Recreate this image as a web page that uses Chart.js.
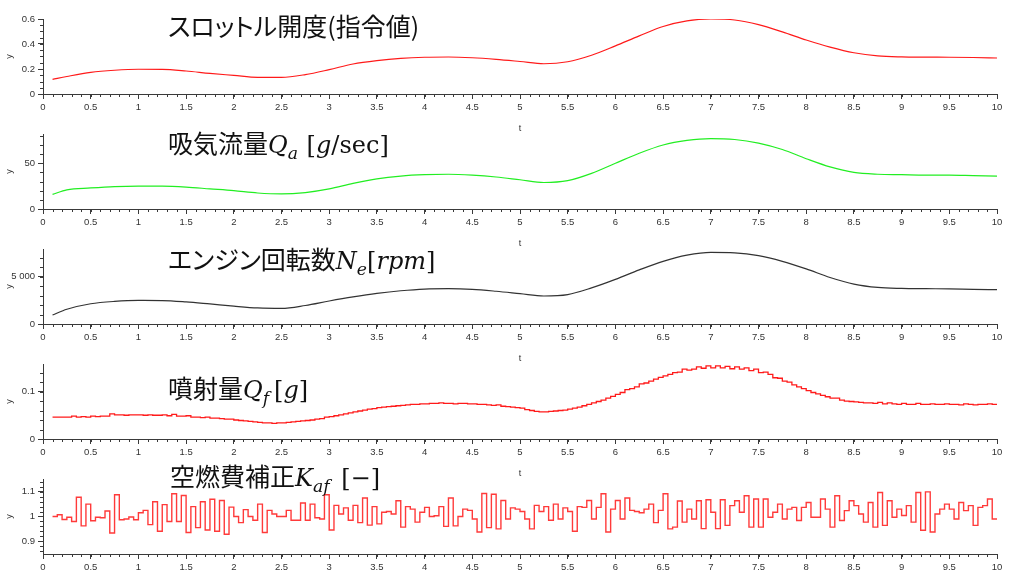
<!DOCTYPE html>
<html><head><meta charset="utf-8">
<script src="https://cdn.jsdelivr.net/npm/chart.js@4.4.1/dist/chart.umd.min.js"></script>
<style>
html,body{margin:0;padding:0;background:#fff;}
#wrap{position:relative;width:1024px;height:579px;overflow:hidden;background:#fff;}
#wrap canvas{position:absolute;left:0;}
.ttl{position:absolute;font-family:"Noto Sans CJK JP";font-size:25px;line-height:1;color:#111;white-space:nowrap;font-feature-settings:"palt";}
.m{font-family:"DejaVu Serif";font-style:italic;font-size:24px;}
.r{font-family:"DejaVu Serif";font-size:24px;}
.ttl sub{font-size:0.72em;vertical-align:-0.32em;line-height:0;}
</style></head>
<body>
<div id="wrap">
  <canvas id="c0" width="1024" height="134" style="top:0px"></canvas>
  <canvas id="c1" width="1024" height="134" style="top:115px"></canvas>
  <canvas id="c2" width="1024" height="134" style="top:230px"></canvas>
  <canvas id="c3" width="1024" height="134" style="top:345px"></canvas>
  <canvas id="c4" width="1024" height="134" style="top:460px"></canvas>
  <div class="ttl" style="left:168px;top:13px">スロットル開度(指令値)</div>
  <div class="ttl" style="left:168px;top:130px">吸気流量<span class="m">Q<sub>a</sub></span> <span class="r" style="margin-left:3px">[</span><span class="m">g</span><span class="r">/sec]</span></div>
  <div class="ttl" style="left:168px;top:246px">エンジン回転数<span class="m">N<sub>e</sub></span><span class="r">[</span><span class="m">rpm</span><span class="r">]</span></div>
  <div class="ttl" style="left:168px;top:375px">噴射量<span class="m">Q<sub style="margin-right:5px">f</sub></span><span class="r">[</span><span class="m">g</span><span class="r">]</span></div>
  <div class="ttl" style="left:170px;top:463px">空燃費補正<span class="m">K<sub>af</sub></span> <span class="r" style="margin-left:6px">[−]</span></div>
</div>
<script>
// ---- data ----
const tSmooth = [0.1,0.25,0.5,0.75,1,1.25,1.5,1.75,2,2.25,2.5,2.75,3,3.25,3.5,3.75,4,4.25,4.5,4.75,5,5.25,5.5,5.75,6,6.25,6.5,6.75,7,7.25,7.5,7.75,8,8.25,8.5,8.75,9,9.25,9.5,9.75,10];
const throttle = [0.117,0.14,0.173,0.19,0.198,0.197,0.184,0.165,0.149,0.133,0.133,0.155,0.195,0.24,0.267,0.285,0.294,0.296,0.29,0.277,0.26,0.242,0.258,0.31,0.385,0.465,0.54,0.585,0.6,0.592,0.555,0.497,0.432,0.375,0.33,0.305,0.297,0.295,0.294,0.292,0.288];
const airFlow = [16,21,23,24.5,25,25,24,22,20,17.5,16.5,18,22,28,33,36,37.5,38,37,35,32,29,31,39,50,61,70,75,77,76,72,65,55,46,40,38,37.5,37,37,36.5,36];
const engineSpeed = [950,1550,2130,2380,2480,2470,2330,2110,1880,1690,1640,1950,2420,2850,3220,3500,3680,3720,3650,3450,3200,2950,3100,3800,4700,5700,6600,7250,7550,7500,7200,6600,5800,4900,4200,3850,3750,3720,3700,3650,3620];

const T0 = 0.1, DT = 0.05, T_END = 10;
const fuelInj = [
 .046,.046,.046,.046,.048,.046,.047,.046,.048,.047,
 .048,.048,.053,.051,.051,.050,.051,.051,.051,.050,
 .051,.050,.050,.051,.049,.052,.048,.048,.049,.046,
 .046,.045,.046,.044,.044,.043,.042,.042,.040,.039,
 .038,.037,.036,.035,.034,.034,.033,.034,.034,.035,
 .036,.037,.038,.039,.040,.042,.043,.046,.047,.049,
 .051,.053,.055,.057,.059,.061,.063,.064,.066,.067,
 .068,.069,.070,.071,.072,.073,.073,.074,.074,.075,
 .075,.076,.075,.075,.074,.075,.075,.074,.074,.073,
 .073,.072,.071,.072,.069,.068,.067,.066,.065,.062,
 .060,.058,.057,.057,.058,.059,.060,.061,.063,.065,
 .067,.070,.073,.076,.079,.082,.086,.090,.094,.098,
 .104,.106,.110,.116,.118,.122,.126,.130,.133,.136,
 .140,.141,.147,.145,.147,.152,.149,.154,.150,.154,
 .150,.153,.148,.152,.147,.150,.144,.147,.140,.141,
 .136,.129,.128,.122,.120,.114,.110,.106,.102,.098,
 .095,.092,.089,.086,.086,.082,.080,.079,.078,.077,
 .076,.076,.075,.077,.074,.076,.074,.073,.075,.073,
 .073,.075,.073,.073,.074,.073,.073,.074,.073,.073,
 .072,.074,.073,.072,.073,.073,.074,.073];
const kafCorr = [
 1.000,1.007,0.988,0.997,0.980,1.078,0.962,1.050,0.983,0.997,
 0.995,1.022,0.933,1.088,0.987,0.990,0.998,0.987,1.015,1.025,
 0.967,1.060,0.940,1.048,0.980,1.092,0.980,1.085,0.935,1.040,
 0.955,1.060,0.945,1.070,0.940,1.065,0.928,1.038,1.000,0.975,
 1.028,1.000,0.985,1.050,0.935,1.025,1.010,1.000,1.000,1.025,
 0.985,0.985,1.055,0.985,1.050,0.995,0.990,1.088,0.945,1.045,
 1.010,1.035,0.985,1.045,0.975,1.075,0.965,1.040,0.970,1.017,
 1.020,1.010,1.064,0.957,1.040,1.030,0.977,1.017,1.037,1.000,
 1.003,1.040,0.960,1.075,0.962,1.000,1.030,1.025,0.990,0.937,
 1.093,0.955,1.090,0.950,1.065,0.990,1.035,1.030,1.020,0.990,
 0.950,1.045,1.020,1.040,0.985,1.050,0.990,1.035,1.020,0.940,
 1.040,1.037,1.065,0.990,1.037,1.092,0.937,1.030,1.065,0.990,
 1.075,1.025,1.020,1.015,1.030,1.050,0.975,1.025,1.092,0.950,
 0.957,1.063,0.977,1.030,0.990,1.064,0.951,1.068,1.017,0.951,
 1.068,0.964,1.044,1.064,1.017,1.084,0.957,1.071,0.957,1.071,
 0.997,1.017,1.050,0.990,1.030,1.037,0.984,1.037,1.057,0.997,
 0.997,1.071,1.030,0.957,1.084,0.984,1.024,1.064,1.044,1.010,
 0.977,1.057,0.957,1.097,0.964,1.064,0.997,1.030,1.004,1.044,
 0.977,1.097,0.944,1.100,0.937,1.010,1.030,1.050,1.030,0.990,
 1.057,1.024,1.044,0.964,1.037,1.044,1.071,0.990];

const xTicks = [0,0.5,1,1.5,2,2.5,3,3.5,4,4.5,5,5.5,6,6.5,7,7.5,8,8.5,9,9.5,10];
const yTicks1 = [0,0.2,0.4,0.6];
const yTicks2 = [0,50];
const yTicks3 = [0,5000];
const yTicks4 = [0,0.1];
const yTicks5 = [0.9,1,1.1];

// ---- helpers ----
const AXIS = '#3a3a3a';
const FONT = {family:'"Liberation Sans", Arial, sans-serif', size:9.5};

function smoothPts(vals){ return tSmooth.map((t,i)=>({x:t,y:vals[i]})); }
function stepPts(vals){
  const pts = vals.map((v,i)=>({x:+(T0+i*DT).toFixed(3), y:v}));
  pts.push({x:T_END, y:vals[vals.length-1]});
  return pts;
}
function fmtThousands(v){ return String(v).replace(/\B(?=(\d{3})+(?!\d))/g,' '); }

const minorTicks = {
  id:'minorTicks',
  afterDraw(chart, args, opts){
    const ctx = chart.ctx, xs = chart.scales.x, ys = chart.scales.y;
    ctx.save(); ctx.strokeStyle = AXIS; ctx.lineWidth = 1; ctx.beginPath();
    let a = Math.ceil(xs.min/opts.x - 1e-6), b = Math.floor(xs.max/opts.x + 1e-6);
    for(let k=a;k<=b;k++){ const p = Math.round(xs.getPixelForValue(k*opts.x))+0.5; ctx.moveTo(p, xs.top); ctx.lineTo(p, xs.top+3); }
    a = Math.ceil(ys.min/opts.y - 1e-6); b = Math.floor(ys.max/opts.y + 1e-6);
    for(let k=a;k<=b;k++){ const p = Math.round(ys.getPixelForValue(k*opts.y))+0.5; ctx.moveTo(ys.right, p); ctx.lineTo(ys.right-3, p); }
    ctx.stroke(); ctx.restore();
  }
};

function makeChart(id, pts, color, width, stepped, yMin, yMax, yTicks, minorY, yFmt){
  new Chart(document.getElementById(id), {
    type:'line',
    data:{datasets:[{data:pts, borderColor:color, borderWidth:width, pointRadius:0, fill:false,
      stepped: stepped ? 'before' : false, cubicInterpolationMode: stepped ? 'default' : 'monotone'}]},
    options:{
      responsive:false, animation:false, events:[],
      layout:{padding:{top:19,right:27,left:0,bottom:0}},
      plugins:{legend:{display:false}, tooltip:{enabled:false}, minorTicks:{x:0.1, y:minorY}},
      scales:{
        x:{type:'linear', min:0, max:10,
          afterBuildTicks:s=>{ s.ticks = xTicks.map(v=>({value:v})); },
          afterFit:s=>{ s.height = 40; },
          grid:{display:true, drawOnChartArea:false, drawTicks:true, tickLength:5, color:AXIS},
          border:{display:true, color:AXIS, width:1},
          ticks:{color:'#333', font:FONT, padding:3, maxRotation:0, autoSkip:false, callback:v=>String(v)},
          title:{display:true, text:'t', color:'#333', font:{family:FONT.family, size:9}, padding:{top:0,bottom:0}}
        },
        y:{type:'linear', min:yMin, max:yMax,
          afterBuildTicks:s=>{ s.ticks = yTicks.map(v=>({value:v})); },
          afterFit:s=>{ s.width = 43; },
          grid:{display:true, drawOnChartArea:false, drawTicks:true, tickLength:5, color:AXIS},
          border:{display:true, color:AXIS, width:1},
          ticks:{color:'#333', font:FONT, padding:3, autoSkip:false, callback:yFmt || (v=>String(v))},
          title:{display:true, text:'y', color:'#333', font:{family:FONT.family, size:9}, padding:{top:4,bottom:0}}
        }
      }
    },
    plugins:[minorTicks]
  });
}

makeChart('c0', smoothPts(throttle), '#ff1a1a', 1.2, false, 0, 0.6, yTicks1, 0.05);
makeChart('c1', smoothPts(airFlow), '#22ee22', 1.2, false, 0, 82, yTicks2, 10);
makeChart('c2', smoothPts(engineSpeed), '#333333', 1.2, false, 0, 7900, yTicks3, 1000, fmtThousands);
makeChart('c3', stepPts(fuelInj), '#ff1a1a', 1.3, true, 0, 0.158, yTicks4, 0.02);
makeChart('c4', stepPts(kafCorr), '#ff3a3a', 1.4, true, 0.848, 1.152, yTicks5, 0.02);
</script>
</body></html>
